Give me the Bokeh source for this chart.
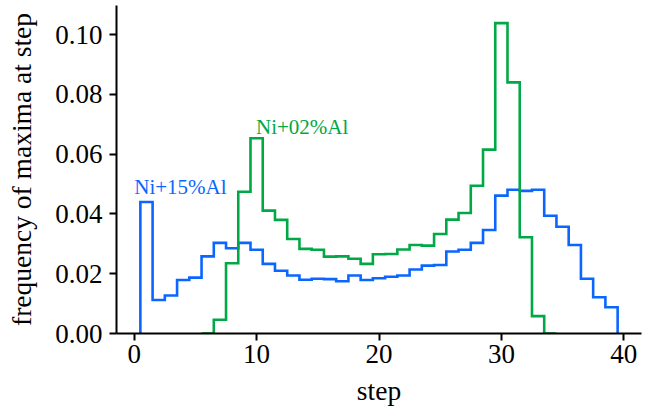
import numpy as np
from bokeh.plotting import figure
from bokeh.models import FixedTicker, PrintfTickFormatter, Range1d
from bokeh.core.properties import value
from bokeh.embed import file_html
from bokeh.resources import INLINE

# Ni+15%Al : frequency per step, bins centred on steps 1..39
steps_15 = list(range(1, 40))
freq_15 = [0.0440, 0.0112, 0.0127, 0.0179, 0.0187, 0.0258, 0.0303, 0.0285, 0.0303, 0.0280,
           0.0233, 0.0210, 0.0194, 0.0180, 0.0183, 0.0182, 0.0175, 0.0194, 0.0179, 0.0185,
           0.0190, 0.0194, 0.0214, 0.0227, 0.0229, 0.0274, 0.0280, 0.0303, 0.0346, 0.0461,
           0.0481, 0.0477, 0.0481, 0.0394, 0.0357, 0.0296, 0.0183, 0.0121, 0.0088]

# Ni+02%Al : frequency per step, bins centred on steps 6..34
steps_02 = list(range(6, 35))
freq_02 = [0.0, 0.0046, 0.0235, 0.0474, 0.0653, 0.0411, 0.0380, 0.0316, 0.0283, 0.0280,
           0.0257, 0.0258, 0.0250, 0.0233, 0.0265, 0.0266, 0.0281, 0.0296, 0.0294, 0.0333,
           0.0381, 0.0403, 0.0494, 0.0615, 0.1038, 0.0840, 0.0322, 0.0058, 0.0]

x_ticks = [0, 10, 20, 30, 40]
y_ticks = [0.00, 0.02, 0.04, 0.06, 0.08, 0.10]

BLUE = "#0a66ff"
GREEN = "#00a846"
FONT = "Liberation Serif"


def outline(centres, vals, width=1.0):
    c = np.asarray(centres, dtype=float)
    v = np.asarray(vals, dtype=float)
    left = c - width / 2
    right = c + width / 2
    xs = [left[0]]
    ys = [0.0]
    for l, r, h in zip(left, right, v):
        xs += [l, r]
        ys += [h, h]
    xs.append(right[-1])
    ys.append(0.0)
    return xs, ys


p = figure(width=649, height=412, output_backend="svg", toolbar_location=None,
           x_range=Range1d(-1.45, 41.45), y_range=Range1d(0, 0.1097),
           min_border_left=116, min_border_right=8, min_border_top=5, min_border_bottom=79)

p.background_fill_color = "white"
p.border_fill_color = "white"
p.outline_line_color = None
p.grid.visible = False

x15, y15 = outline(steps_15, freq_15)
x02, y02 = outline(steps_02, freq_02)
p.line(x15, y15, line_color=BLUE, line_width=2.6, line_join="miter")
p.line(x02, y02, line_color=GREEN, line_width=2.6, line_join="miter")

p.text(x=[0.0], y=[0.0468], text=["Ni+15%Al"], text_color=BLUE, y_offset=-7,
       text_font=value(FONT), text_font_size="21px", text_baseline="alphabetic", text_align="left")
p.text(x=[9.95], y=[0.0668], text=["Ni+02%Al"], text_color=GREEN, y_offset=-7,
       text_font=value(FONT), text_font_size="21px", text_baseline="alphabetic", text_align="left")

for ax in (p.xaxis, p.yaxis):
    ax.axis_line_color = "black"
    ax.axis_line_width = 2
    ax.major_tick_line_color = "black"
    ax.major_tick_line_width = 2
    ax.major_tick_out = 7
    ax.major_tick_in = 0
    ax.minor_tick_line_color = None
    ax.major_label_text_font = FONT
    ax.major_label_text_font_size = "27px"
    ax.major_label_text_color = "black"
    ax.axis_label_text_font = FONT
    ax.axis_label_text_font_size = "27.5px"
    ax.axis_label_text_font_style = "normal"
    ax.axis_label_text_color = "black"

p.xaxis.ticker = FixedTicker(ticks=x_ticks)
p.yaxis.ticker = FixedTicker(ticks=y_ticks)
p.yaxis.formatter = PrintfTickFormatter(format="%.2f")
p.xaxis.axis_label = "step"
p.yaxis.axis_label = "frequency of maxima at step"
p.xaxis.major_label_standoff = 4
p.yaxis.major_label_standoff = 7
p.xaxis.axis_label_standoff = 9
p.yaxis.axis_label_standoff = 15

open("out.html", "w").write(file_html(p, INLINE))
